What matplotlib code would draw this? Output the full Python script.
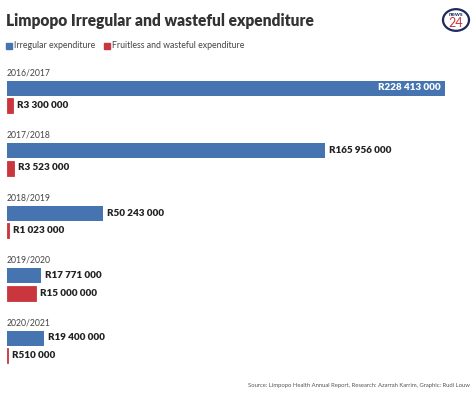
import matplotlib
matplotlib.use('Agg')
import matplotlib.pyplot as plt
from matplotlib.patches import Circle, Rectangle

years = ['2016/2017', '2017/2018', '2018/2019', '2019/2020', '2020/2021']
irregular = [228413000, 165956000, 50243000, 17771000, 19400000]
fruitless = [3300000, 3523000, 1023000, 15000000, 510000]
irregular_labels = ['R228 413 000', 'R165 956 000', 'R50 243 000', 'R17 771 000', 'R19 400 000']
fruitless_labels = ['R3 300 000', 'R3 523 000', 'R1 023 000', 'R15 000 000', 'R510 000']

BLUE = '#4674b1'
RED = '#c9363d'
FONT = 'Lato'

W, H = 474, 395
fig = plt.figure(figsize=(W / 100, H / 100), dpi=100)

# axes in pixel terms: x from 7 to 445, y from 60 to 375
ax = fig.add_axes([7 / W, 1 - 375 / H, 438 / W, 315 / H])
ax.set_xlim(0, max(irregular))
ax.set_ylim((375 - 88) / 62.5, (60 - 88) / 62.5)
ax.axis('off')

pos = list(range(len(years)))
bh = 0.24
ax.barh([p for p in pos], irregular, height=bh, color=BLUE, align='center')
ax.barh([p + 0.28 for p in pos], fruitless, height=bh, color=RED, align='center',
        edgecolor=RED, linewidth=0.6)

xmax = max(irregular)
pad = xmax * 0.009
for i, p in enumerate(pos):
    ax.text(0, p - 0.245, years[i], fontsize=6.2, color='#444444', family=FONT,
            va='center', ha='left')
    if irregular[i] > xmax * 0.8:
        ax.text(irregular[i] - pad, p, irregular_labels[i], fontsize=7.1,
                fontweight='heavy', color='white', family=FONT, va='center', ha='right')
    else:
        ax.text(irregular[i] + pad, p, irregular_labels[i], fontsize=7.1,
                fontweight='heavy', color='#222222', family=FONT, va='center', ha='left')
    ax.text(fruitless[i] + pad, p + 0.28, fruitless_labels[i], fontsize=7.1,
            fontweight='heavy', color='#222222', family=FONT, va='center', ha='left')

# title, legend, source
fig.text(6 / W, 1 - 21 / H, 'Limpopo Irregular and wasteful expenditure', fontsize=11.2,
         fontweight='heavy', color='#333333', family=FONT, va='center', ha='left')
fig.patches.append(Rectangle((6 / W, 1 - 49 / H), 6 / W, 6 / H, transform=fig.transFigure,
                             color=BLUE, figure=fig))
fig.text(14 / W, 1 - 46 / H, 'Irregular expenditure', fontsize=6.3, color='#444444',
         family=FONT, va='center', ha='left')
fig.patches.append(Rectangle((104 / W, 1 - 49 / H), 6 / W, 6 / H, transform=fig.transFigure,
                             color=RED, figure=fig))
fig.text(112 / W, 1 - 46 / H, 'Fruitless and wasteful expenditure', fontsize=6.3,
         color='#444444', family=FONT, va='center', ha='left')
fig.text(470 / W, 1 - 385 / H, 'Source: Limpopo Health Annual Report, Research: Azarrah Karrim, Graphic: Rudi Louw',
         fontsize=4.2, color='#555555', family=FONT, va='center', ha='right')

# news24 logo
cx, cy, r = 456, 20, 13
fig.patches.append(Circle((cx / W, 1 - cy / H), r / W, transform=fig.transFigure,
                          facecolor='white', edgecolor='#1d2a5c', linewidth=1.6, figure=fig))
fig.text(cx / W, 1 - (cy - 5) / H, 'news', fontsize=4.5, color='#1d2a5c', family=FONT,
         fontweight='bold', va='center', ha='center')
fig.text(cx / W, 1 - (cy + 3) / H, '24', fontsize=9, color='#c9363d', family=FONT,
         va='center', ha='center')

fig.savefig('out.png', dpi=100)
